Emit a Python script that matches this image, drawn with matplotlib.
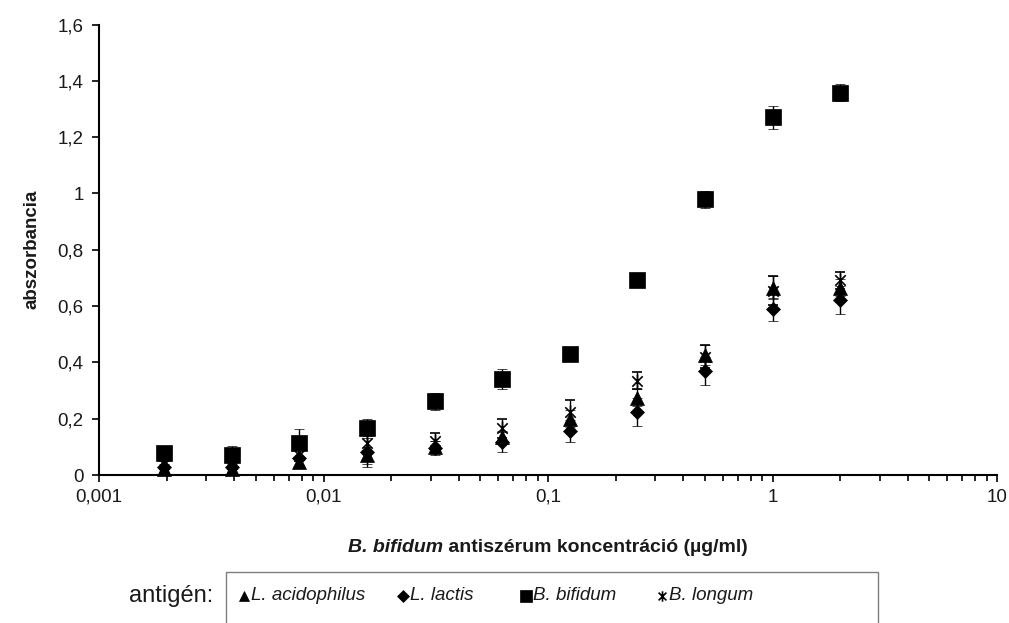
import matplotlib
matplotlib.use("Agg")
import matplotlib.pyplot as plt
from matplotlib.path import Path
from matplotlib.lines import Line2D
from matplotlib.patches import Rectangle
from matplotlib.ticker import FixedLocator, LogLocator, FuncFormatter, NullFormatter

plt.rcParams['font.family'] = ['Liberation Sans', 'DejaVu Sans']

# antiserum concentration (µg/ml), two-fold dilution series
concentration = [2 / 2 ** k for k in range(10, -1, -1)]

acidophilus = [0.02, 0.02, 0.045, 0.07, 0.10, 0.135, 0.20, 0.275, 0.425, 0.665, 0.665]
acidophilus_err = [0.01, 0.01, 0.02, 0.03, 0.02, 0.02, 0.03, 0.03, 0.035, 0.04, 0.03]

lactis = [0.03, 0.03, 0.06, 0.08, 0.095, 0.118, 0.156, 0.225, 0.37, 0.588, 0.622]
lactis_err = [0.01, 0.01, 0.03, 0.05, 0.025, 0.035, 0.04, 0.05, 0.05, 0.04, 0.05]

bifidum = [0.078, 0.072, 0.112, 0.168, 0.262, 0.341, 0.43, 0.692, 0.98, 1.27, 1.357]
bifidum_err = [0.015, 0.03, 0.05, 0.03, 0.03, 0.035, 0.01, 0.025, 0.03, 0.04, 0.03]

longum = [0.04, 0.04, 0.07, 0.115, 0.12, 0.166, 0.225, 0.335, 0.42, 0.655, 0.692]
longum_err = [0.01, 0.01, 0.02, 0.03, 0.03, 0.033, 0.04, 0.03, 0.04, 0.05, 0.03]

series_names = ["L. acidophilus", "L. lactis", "B. bifidum", "B. longum"]

# asterisk marker: vertical stroke plus an X
star = Path([(0, -1), (0, 1), (-0.75, -0.75), (0.75, 0.75), (-0.75, 0.75), (0.75, -0.75)],
            [Path.MOVETO, Path.LINETO, Path.MOVETO, Path.LINETO, Path.MOVETO, Path.LINETO])

styles = [
    dict(marker="^", ms=9.5, mfc="black", mec="black", mew=0.5),
    dict(marker="D", ms=7.5, mfc="black", mec="black", mew=0.5),
    dict(marker="s", ms=11, mfc="black", mec="black", mew=0.5),
    dict(marker=star, ms=10, mfc="none", mec="black", mew=1.2),
]
data = [(acidophilus, acidophilus_err), (lactis, lactis_err),
        (bifidum, bifidum_err), (longum, longum_err)]

W, H = 1009, 623
TXT = "#1a1a1a"
fig = plt.figure(figsize=(W / 100, H / 100), dpi=100)
ax = fig.add_axes([99 / W, (H - 475) / H, (997 - 99) / W, (475 - 24.5) / H])

for (vals, errs), st in zip(data, styles):
    ax.errorbar(concentration, vals, yerr=errs, linestyle="none", ecolor="black",
                elinewidth=1, capsize=3.5, capthick=1, color="black", clip_on=False, **st)

ax.set_xscale("log")
ax.set_xlim(0.001, 10)
ax.set_ylim(0, 1.6)

def comma(v, pos):
    return f"{v:g}".replace(".", ",")

ax.xaxis.set_major_locator(FixedLocator([0.001, 0.01, 0.1, 1, 10]))
ax.xaxis.set_major_formatter(FuncFormatter(comma))
ax.xaxis.set_minor_locator(LogLocator(base=10, subs=range(2, 10), numticks=20))
ax.xaxis.set_minor_formatter(NullFormatter())
ax.set_yticks([0, 0.2, 0.4, 0.6, 0.8, 1.0, 1.2, 1.4, 1.6])
ax.yaxis.set_major_formatter(FuncFormatter(comma))

for side in ("top", "right"):
    ax.spines[side].set_visible(False)
for side in ("left", "bottom"):
    ax.spines[side].set_linewidth(1.5)
    ax.spines[side].set_color("black")

ax.tick_params(axis="both", which="major", direction="out", length=5, width=1.2,
               labelsize=13.5, color="black", labelcolor=TXT)
ax.tick_params(axis="x", which="minor", direction="out", length=4, width=1.2, color="black")
ax.tick_params(axis="y", pad=6)
ax.tick_params(axis="x", pad=5)

ax.set_ylabel("abszorbancia", fontsize=13.5, fontweight="bold", labelpad=12, color=TXT)

# x-axis title: italic species name followed by upright text, centred as one line
fig.canvas.draw()
renderer = fig.canvas.get_renderer()
y_title = (H - 548) / H
part1 = fig.text(0, y_title, "B. bifidum", fontsize=14, fontweight="bold",
                 fontstyle="italic", va="center", ha="left", color=TXT)
part2 = fig.text(0, y_title, " antiszérum koncentráció (µg/ml)", fontsize=14,
                 fontweight="bold", va="center", ha="left", color=TXT)
w1 = part1.get_window_extent(renderer).width
w2 = part2.get_window_extent(renderer).width
x0 = 548 - (w1 + w2) / 2
part1.set_x(x0 / W)
part2.set_x((x0 + w1) / W)

# legend row below the plot
leg_y = (H - 596) / H
fig.text(213 / W, leg_y, "antigén:", fontsize=17, ha="right", va="center", color=TXT)
fig.add_artist(Rectangle((226 / W, -0.05), (878 - 226) / W, 0.05 + (H - 572) / H,
                         transform=fig.transFigure, fill=False, edgecolor="#7f7f7f",
                         linewidth=1))
legend_x = [244, 403, 526, 662]
for lx, st, name in zip(legend_x, styles, series_names):
    lst = dict(st)
    lst["ms"] = st["ms"] * 0.75
    fig.add_artist(Line2D([lx / W], [leg_y], transform=fig.transFigure,
                          linestyle="none", **lst))
    fig.text((lx + 7) / W, leg_y, name, fontsize=13.5, fontstyle="italic",
             ha="left", va="center", color=TXT)

fig.savefig("out.png", dpi=100)
